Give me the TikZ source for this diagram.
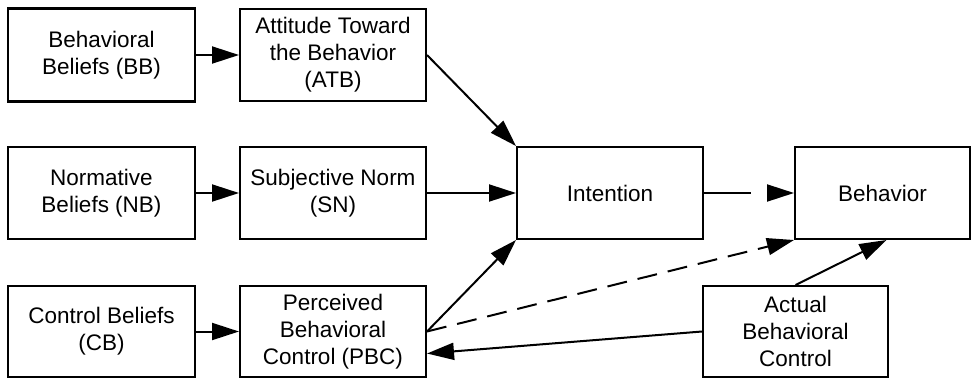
\documentclass[tikz,border=0pt]{standalone}
\usepackage{fontspec}
\setmainfont{Liberation Sans}
\usetikzlibrary{arrows.meta,calc}
\begin{document}
\begin{tikzpicture}[x=1pt,y=-1pt,
  box/.style={draw,line width=2pt,align=center,inner sep=2pt,
    font=\fontsize{22.5}{27}\selectfont},
  thickbox/.style={box,line width=2.8pt},
  arr/.style={line width=2pt,-{Triangle[length=27pt,width=17pt]}},
  dasharr/.style={arr,dash pattern=on 20pt off 11pt},
  gaparr/.style={arr,dash pattern=on 47pt off 40pt}]
\useasboundingbox (0,0) rectangle (972,381);
\node[thickbox,minimum width=187pt,minimum height=93pt] (BB) at (101.5,55) {Behavioral\\Beliefs (BB)};
\node[box,minimum width=186pt,minimum height=92pt] (ATB) at (333,55) {Attitude Toward\\the Behavior\\(ATB)};
\node[thickbox,minimum width=187pt,minimum height=92pt] (NB) at (101.5,193) {Normative\\Beliefs (NB)};
\node[box,minimum width=186pt,minimum height=92pt] (SN) at (333,193) {Subjective Norm\\(SN)};
\node[thickbox,minimum width=187pt,minimum height=91pt] (CB) at (101.5,331.5) {Control Beliefs\\(CB)};
\node[box,minimum width=186pt,minimum height=91pt] (PBC) at (333,331.5) {Perceived\\Behavioral\\Control (PBC)};
\node[box,minimum width=186pt,minimum height=92pt] (INT) at (610,193) {Intention};
\node[box,minimum width=175pt,minimum height=92pt] (BEH) at (882.5,193) {Behavior};
\node[box,minimum width=185pt,minimum height=91pt] (ABC) at (795.5,331.5) {Actual\\Behavioral\\Control};
\coordinate (pbcin) at ($(PBC.east)+(0,22)$);
\coordinate (behin) at ($(BEH.south)+(4,0)$);
\draw[arr] (BB.east) -- (ATB.west);
\draw[arr] (NB.east) -- (SN.west);
\draw[arr] (CB.east) -- (PBC.west);
\draw[arr] (ATB.east) -- (INT.north west);
\draw[arr] (SN.east) -- (INT.west);
\draw[arr] (PBC.east) -- (INT.south west);
\draw[dasharr] (PBC.east) -- (BEH.south west);
\draw[gaparr] (INT.east) -- (BEH.west);
\draw[arr] (ABC.north) -- (behin);
\draw[arr] (ABC.west) -- (pbcin);
\end{tikzpicture}
\end{document}
